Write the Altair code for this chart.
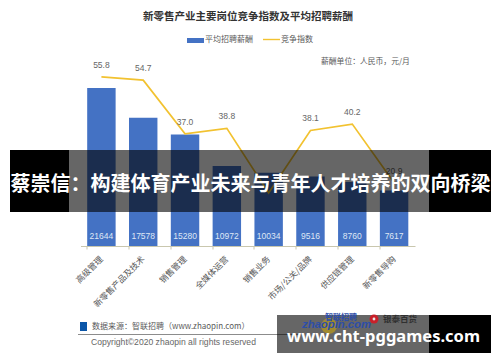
import altair as alt
import pandas as pd

categories = ["高级管理", "新零售产品及技术", "销售管理", "全媒体运营", "销售业务", "市场/公关/品牌", "供应链管理", "新零售导购"]
salary = [21644, 17578, 15280, 10972, 10034, 9516, 8760, 7617]
index_values = [55.8, 54.7, 37.0, 38.8, 17.5, 38.1, 40.2, 20.9]
index_labels = ["55.8", "54.7", "37.0", "38.8", "", "38.1", "40.2", "20.9"]

df = pd.DataFrame({"cat": categories, "salary": salary, "idx": index_values, "lab": index_labels})

CJK = "Noto Sans CJK SC"
x = alt.X("cat:N", sort=categories, title=None,
          scale=alt.Scale(paddingInner=0.32, paddingOuter=0.16),
          axis=alt.Axis(labelAngle=-45, labelFont=CJK, labelFontSize=8.5, labelColor="#585858",
                        domainColor="#c9c7ae", tickColor="#c9c7ae", tickSize=3, labelPadding=8,
                        labelAlign="right", labelBaseline="middle", bandPosition=0, labelOverlap=False))

y_bar = alt.Y("salary:Q", axis=None, scale=alt.Scale(domain=[0, 32602]))
y_line = alt.Y("idx:Q", axis=None, scale=alt.Scale(domain=[0, 78.5]))

bars = alt.Chart(df).mark_bar(color="#4472c4").encode(x=x, y=y_bar)
bar_text = alt.Chart(df).mark_text(color="#dfe7f5", font="Liberation Sans", fontSize=8.5, baseline="middle").encode(
    x=x, y=alt.value(228), text="salary:Q")
bar_layer = alt.layer(bars, bar_text)

line = alt.Chart(df).mark_line(color="#f2c230", strokeWidth=1.7).encode(x=x, y=y_line)
line_text = alt.Chart(df).mark_text(color="#666666", font="Liberation Sans", fontSize=8.5, dy=-12).encode(
    x=x, y=y_line, text="lab:N")
line_layer = alt.layer(line, line_text)

# plot area origin on the page: (80.5, 8); helpers take page coordinates
OX, OY = 80.5, 8


def rect(x0, x1, y0, y1, color, opacity=1.0):
    return alt.Chart(df.head(1)).mark_rect(color=color, opacity=opacity).encode(
        x=alt.value(x0 - OX), x2=alt.value(x1 - OX), y=alt.value(y0 - OY), y2=alt.value(y1 - OY))


def label(text, px, py, size=8, color="#404040", align="left", font=CJK, weight="normal", style="normal"):
    return alt.Chart(df.head(1)).mark_text(
        font=font, fontSize=size, color=color, align=align, baseline="middle",
        fontWeight=weight, fontStyle=style).encode(
        x=alt.value(px - OX), y=alt.value(py - OY), text=alt.value(text))


def circle(px, py, size, color):
    return alt.Chart(df.head(1)).mark_point(filled=True, color=color, size=size, opacity=1).encode(
        x=alt.value(px - OX), y=alt.value(py - OY))


furniture = [
    label("新零售产业主要岗位竞争指数及平均招聘薪酬", 248, 17, size=10.5, color="#333333", align="center", weight="bold"),
    rect(187, 204, 38, 43, "#4472c4"),
    label("平均招聘薪酬", 205, 39.5, size=8, color="#5a5a5a"),
    rect(263, 280, 38.8, 40.2, "#f2c230"),
    label("竞争指数", 281, 39.5, size=8, color="#5a5a5a"),
    label("薪酬单位：人民币，元/月", 321, 62, size=7.8, color="#5a5a5a"),
    rect(80, 87, 322, 331, "#0b56a8"),
    label("数据来源：智联招聘（www.zhaopin.com）", 92, 327, size=8, color="#5a5a5a"),
    rect(78, 300, 334, 335, "#8c8c8c"),
    label("Copyright©2020 zhaopin all rights reserved", 91, 342, size=8.6, color="#666666", font="Liberation Sans"),
]

overlay = [
    rect(69, 429, 150, 212, "#000000", 0.6),
    rect(10, 69, 150, 212, "#000000"),
    rect(429, 491, 150, 212, "#000000"),
    label("蔡崇信：构建体育产业未来与青年人才培养的双向桥梁", 250.5, 185, size=20, color="#ffffff", align="center", weight="bold"),
    rect(277, 429, 315, 353, "#000000", 0.6),
    rect(429, 491, 315, 353, "#000000"),
    circle(329, 326, 250, "#a08a30"),
    label("智联招聘", 325, 318, size=8, color="#2d4ea8", weight="bold"),
    label("zhaopin.com", 302, 325, size=11.3, color="#2d4ea8", font="Liberation Sans", weight="bold", style="italic"),
    circle(374, 319, 80, "#c8202a"),
    circle(374, 319, 8, "#e8e8e8"),
    label("银泰百货", 383, 319, size=8.5, color="#303030", weight="bold"),
    label("www.cht-pggames.com", 383.5, 336.5, size=16.5, color="#ffffff", align="center", font="Noto Sans", weight="bold"),
]

chart = alt.layer(
    bar_layer, line_layer, *furniture, *overlay
).resolve_scale(y="independent").properties(
    width=334.5, height=238,
    padding={"left": 72.5, "top": 0, "right": 77, "bottom": 108},
    autosize=alt.AutoSizeParams(type="none"),
    background="#ffffff",
).configure_view(stroke=None)

chart.save("out.html", embed_options={"renderer": "svg", "actions": False})
